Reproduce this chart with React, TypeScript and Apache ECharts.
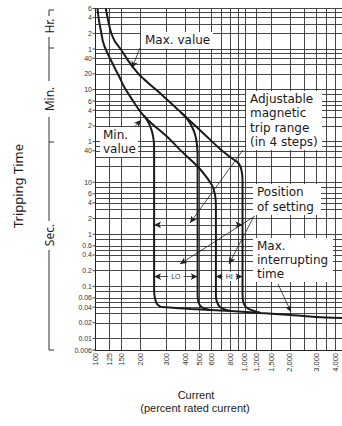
import React, { useEffect, useRef } from 'react';
import * as echarts from 'echarts';

// ---- axes (percent rated current / seconds) ----
const xMin = 100;
const xMax = 4450;
const yMin = 0.006;
const yMax = 21600;

const xTickValues = [100, 125, 150, 200, 300, 400, 500, 600, 800, 1000, 1200, 1500, 2000, 3000, 4000];
const xTickLabels = ['100', '125', '150', '200', '300', '400', '500', '600', '800', '1,000', '1,200', '1,500', '2,000', '3,000', '4,000'];
const xGridValues = [125, 150, 200, 300, 400, 500, 600, 700, 800, 900, 1000, 1200, 1500, 2000, 2500, 3000, 3500, 4000];

const yTickValues = [21600, 14400, 7200, 3600, 2400, 1200, 600, 360, 240, 120, 60, 40, 10, 6, 4, 2, 1, 0.6, 0.4, 0.2, 0.1, 0.06, 0.04, 0.02, 0.01, 0.006];
const yTickLabels = ['6', '4', '2', '1', '40', '20', '10', '6', '4', '2', '1', '40', '10', '6', '4', '2', '1', '0.6', '0.4', '0.2', '0.1', '0.06', '0.04', '0.02', '0.01', '0.006'];
const yGridValues = [21600, 18000, 14400, 10800, 7200, 3600, 3000, 2400, 1800, 1200, 600, 480, 360, 300, 240, 180, 120, 60, 50, 40, 30, 20, 10, 8, 6, 5, 4, 3, 2, 1, 0.8, 0.6, 0.5, 0.4, 0.3, 0.2, 0.1, 0.08, 0.06, 0.05, 0.04, 0.03, 0.02, 0.01];

// ---- curves: [percent rated current, seconds] ----
const maxThermal = [[118, 21600], [122, 13300], [128, 7480], [136, 5030], [149, 3525], [163, 2370], [178, 1660], [203, 1067], [255, 600], [302, 385], [358, 247], [437, 145], [550, 78], [692, 42], [845, 27]];
const minThermal = [[104, 21600], [106, 13300], [110, 7480], [113, 5030], [118, 3525], [126, 2370], [134, 1660], [145, 1067], [156, 685], [177, 385], [203, 217], [236, 139], [302, 75], [380, 38.6], [486, 19.8], [558, 12.2], [612, 8.2]];
const loMinDrop = [[212, 190], [227, 142], [238, 102], [245, 71.6], [248, 48], [248, 30.9], [248, 0.0855], [251, 0.06], [259, 0.046], [275, 0.0403]];
const loMaxDrop = [[375, 217], [411, 166], [443, 117], [468, 78], [480, 50], [484, 32.3], [484, 0.0685], [490, 0.0503], [509, 0.0412], [550, 0.0368], [593, 0.0353]];
const hiMinDrop = [[612, 8.2], [634, 5.5], [641, 3.53], [641, 0.0685], [651, 0.0503], [681, 0.0403], [736, 0.0361], [807, 0.0337]];
const hiMaxDrop = [[845, 27], [912, 22.7], [948, 17.4], [965, 11.2], [965, 0.0685], [977, 0.0503], [1015, 0.0403], [1096, 0.0353], [1278, 0.0309]];
const interruptCurve = [[275, 0.0403], [347, 0.0385], [437, 0.0368], [593, 0.0353], [807, 0.0337], [1278, 0.0309], [2026, 0.0283], [2970, 0.0259], [4450, 0.0247]];

// ---- dimension marks ----
const magneticRange = [248, 965];
const magneticRangeTime = 1.52;
const loRange = [248, 484];
const hiRange = [641, 965];
const settingTime = 0.154;

const FONT = '"Noto Sans", "Open Sans", sans-serif';
const NOTEFONT = '"DejaVu Sans", "Noto Sans", sans-serif';
const NUMFONT = '"Liberation Sans", Arial, sans-serif';
const INK = '#1a1a1a';

const notes = [
  { text: 'Max. value', x: 145, y: 40, lh: 14, box: [141, 32, 72, 17] },
  { text: 'Min.\nvalue', x: 103, y: 135, lh: 14, box: [100, 127, 38, 30] },
  { text: 'Adjustable\nmagnetic\ntrip range\n(in 4 steps)', x: 250, y: 99, lh: 14.3, box: [246, 91, 76, 59] },
  { text: 'Position\nof setting', x: 257, y: 192, lh: 15, box: [253, 184, 68, 31] },
  { text: 'Max.\ninterrupting\ntime', x: 257, y: 245.5, lh: 14, box: [253, 238, 80, 44] },
];

const pointers = [
  [[140, 48], [132, 68]],
  [[129, 133], [141, 120]],
  [[243, 150], [190, 223]],
  [[255, 216], [180, 264]],
  [[253, 218], [229, 264]],
  [[278, 284], [291, 312]],
];

function curve(data: number[][]) {
  return {
    type: 'line',
    data,
    symbol: 'none',
    smooth: 0.3,
    silent: true,
    z: 5,
    lineStyle: { color: INK, width: 2 },
  };
}

export default function App() {
  const ref = useRef<HTMLDivElement>(null);
  useEffect(() => {
    const el = ref.current!;
    const chart = echarts.init(el, null, { renderer: 'svg' });
    const gridLineStyle = { type: 'solid', color: '#333', width: 0.9 };
    chart.setOption({
      animation: false,
      backgroundColor: '#fff',
      grid: { left: 95, right: 0, top: 8.5, bottom: 76, containLabel: false },
      xAxis: {
        type: 'log', logBase: 10, min: xMin, max: xMax,
        axisLine: { show: true, lineStyle: { color: '#222', width: 1 } },
        axisTick: { show: false }, axisLabel: { show: false }, splitLine: { show: false },
      },
      yAxis: {
        type: 'log', logBase: 10, min: yMin, max: yMax,
        axisLine: { show: true, lineStyle: { color: '#222', width: 1 } },
        axisTick: { show: false }, axisLabel: { show: false }, splitLine: { show: false },
      },
      series: [
        {
          type: 'line', data: [], silent: true, z: 1,
          markLine: {
            silent: true, symbol: 'none', animation: false,
            label: { show: false }, lineStyle: gridLineStyle,
            emphasis: { disabled: true },
            data: [
              ...yGridValues.map((v) => ({ yAxis: v })),
              ...xGridValues.map((v) => ({ xAxis: v })),
            ],
          },
        },
        curve(maxThermal),
        curve(minThermal),
        curve(loMinDrop),
        curve(loMaxDrop),
        curve(hiMinDrop),
        curve(hiMaxDrop),
        curve(interruptCurve),
        {
          type: 'line', data: [], silent: true, z: 6,
          markLine: {
            silent: true, animation: false,
            symbol: ['arrow', 'arrow'], symbolSize: [5, 7],
            lineStyle: { type: 'solid', color: '#222', width: 0.8 },
            emphasis: { disabled: true },
            label: { show: false },
            data: [
              [{ coord: [magneticRange[0], magneticRangeTime] }, { coord: [magneticRange[1], magneticRangeTime] }],
              [
                { coord: [loRange[0], settingTime], label: { show: true, position: 'insideMiddle', formatter: 'LO', fontSize: 7, fontFamily: NUMFONT, color: '#333', backgroundColor: '#fff', padding: [1, 3], distance: 0 } },
                { coord: [loRange[1], settingTime] },
              ],
              [
                { coord: [hiRange[0], settingTime], label: { show: true, position: 'insideMiddle', formatter: 'HI', fontSize: 7, fontFamily: NUMFONT, color: '#333', backgroundColor: '#fff', padding: [1, 3], distance: 0 } },
                { coord: [hiRange[1], settingTime] },
              ],
            ],
          },
        },
        {
          type: 'line', data: [], silent: true, z: 7,
          markLine: {
            silent: true, animation: false,
            symbol: ['none', 'arrow'], symbolSize: [5, 7],
            lineStyle: { type: 'solid', color: '#222', width: 0.8 },
            emphasis: { disabled: true },
            label: { show: false },
            data: pointers.map((p) => [{ x: p[0][0], y: p[0][1] }, { x: p[1][0], y: p[1][1] }]),
          },
        },
      ],
    });

    const g: any[] = [];
    const px = (x: number, y: number) => chart.convertToPixel({ gridIndex: 0 }, [x, y]) as number[];
    const bottomY = px(xMin, yMin)[1];
    const leftX = px(xMin, yMin)[0];

    xTickValues.forEach((v, i) => {
      const p = px(v, yMin);
      g.push({
        type: 'text', x: p[0], y: bottomY + 3, rotation: Math.PI / 2, silent: true, z: 60,
        style: { text: xTickLabels[i], align: 'right', verticalAlign: 'middle', fontSize: 7.5, fontFamily: NUMFONT, fill: '#333' },
      });
    });
    yTickValues.forEach((v, i) => {
      const p = px(xMin, v);
      g.push({
        type: 'text', x: leftX - 3, y: p[1], silent: true, z: 60,
        style: { text: yTickLabels[i], align: 'right', verticalAlign: 'middle', fontSize: 7, fontFamily: NUMFONT, fill: '#333' },
      });
      g.push({
        type: 'line', silent: true, z: 60,
        shape: { x1: leftX - 2.5, y1: p[1], x2: leftX, y2: p[1] },
        style: { stroke: '#333', lineWidth: 0.9 },
      });
    });

    notes.forEach((n) => {
      g.push({ type: 'rect', silent: true, z: 50, shape: { x: n.box[0], y: n.box[1], width: n.box[2], height: n.box[3] }, style: { fill: '#fff' } });
      g.push({
        type: 'text', x: n.x, y: n.y - n.lh / 2, silent: true, z: 51,
        style: { text: n.text, align: 'left', verticalAlign: 'top', lineHeight: n.lh, fontSize: 12, fontFamily: NOTEFONT, fill: INK },
      });
    });

    // left bracket: Hr. / Min. / Sec.
    const bx = 49;
    const seg = (x1: number, y1: number, x2: number, y2: number) =>
      g.push({ type: 'line', silent: true, z: 60, shape: { x1, y1, x2, y2 }, style: { stroke: '#333', lineWidth: 1 } });
    seg(bx, 10, bx + 5, 10);
    seg(bx, 10, bx, 16);
    seg(bx, 37, bx, 81);
    seg(bx, 48, bx + 5, 48);
    seg(bx, 117, bx, 221);
    seg(bx, 142, bx + 5, 142);
    seg(bx, 250, bx, 350);
    seg(bx, 350, bx + 5, 350);
    const vt = (t: string, x: number, y: number, size: number) =>
      g.push({
        type: 'text', x, y, rotation: Math.PI / 2, silent: true, z: 60,
        style: { text: t, align: 'center', verticalAlign: 'middle', fontSize: size, fontFamily: FONT, fill: INK },
      });
    vt('Hr.', bx, 26, 12);
    vt('Min.', bx, 99, 12);
    vt('Sec.', bx, 235, 12);
    vt('Tripping Time', 18, 186, 13);

    g.push({ type: 'text', x: 196, y: 395, silent: true, z: 60, style: { text: 'Current', align: 'center', verticalAlign: 'middle', fontSize: 11, fontFamily: NUMFONT, fill: INK } });
    g.push({ type: 'text', x: 195, y: 408, silent: true, z: 60, style: { text: '(percent rated current)', align: 'center', verticalAlign: 'middle', fontSize: 11, fontFamily: NUMFONT, fill: INK } });

    chart.setOption({ graphic: g });
    return () => chart.dispose();
  }, []);
  return <div ref={ref} style={{ position: 'fixed', left: 0, top: 0, width: 342, height: 426, background: '#fff' }} />;
}
